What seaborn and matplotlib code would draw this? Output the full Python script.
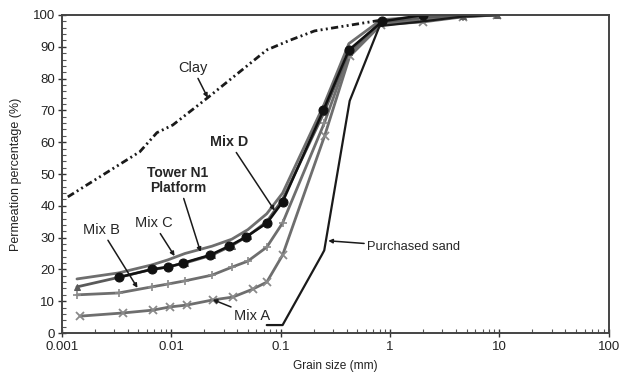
import numpy as np
import pandas as pd
import seaborn as sns
import matplotlib
matplotlib.use("Agg")
import matplotlib.pyplot as plt
from matplotlib.ticker import MultipleLocator, LogLocator, FixedLocator, FixedFormatter, NullFormatter

# Grain size distribution data (grain size in mm, passing percentage)
mix_grain = [0.00137, 0.0033, 0.0066, 0.0093, 0.0133, 0.0235, 0.0357, 0.05,
             0.0745, 0.104, 0.25, 0.42, 0.83, 2.0, 4.6, 9.4]
mix_a_grain = [0.00146, 0.0036, 0.0068, 0.0097, 0.0139, 0.0239, 0.0365, 0.0555,
               0.0745, 0.104, 0.252, 0.427, 0.83, 1.98, 4.6, 9.4]
mix_a_pass = [5.3, 6.3, 7.2, 8.2, 8.8, 10.4, 11.3, 13.8, 16, 24.5, 62, 87, 97, 97.8, 99.4, 100]
mix_b_pass = [12, 12.6, 14.5, 15.4, 16.4, 18.2, 20.7, 22.6, 27, 34.6, 66, 87.5, 97.5, 98.5, 99.5, 100]
mix_c_pass = [17, 18.9, 21.4, 23, 25, 27.3, 29.5, 32.5, 37.5, 44, 72, 91, 98.5, 99.5, 100, 100]
mix_d_pass = [14.5, 17.5, 20, 20.8, 22, 24.5, 27.5, 30.5, 35, 42, 69.5, 88.5, 97.8, 99.3, 99.8, 100]

tower_grain = [0.0033, 0.0066, 0.0093, 0.0127, 0.0225, 0.034, 0.048, 0.075, 0.104,
               0.245, 0.42, 0.85, 2.0]
tower_pass = [17.5, 20, 20.7, 22, 24.5, 27.4, 30.2, 34.6, 41.2, 70, 89, 98, 100]

clay_grain = [0.00113, 0.00515, 0.00738, 0.0103, 0.0215, 0.0745, 0.12, 0.204, 0.83]
clay_pass = [42.8, 57, 63, 65.4, 74, 89, 92, 95, 98.4]

sand_grain = [0.0745, 0.104, 0.237, 0.25, 0.427, 0.8, 2.0, 4.6, 9.4]
sand_pass = [2.5, 2.5, 24.5, 26, 73, 96.5, 98, 99.5, 100]

x_ticks = [0.001, 0.01, 0.1, 1, 10, 100]
x_tick_labels = ["0.001", "0.01", "0.1", "1", "10", "100"]

sns.set_theme(style="white")
plt.rcParams["font.family"] = ["Liberation Sans", "DejaVu Sans"]

fig = plt.figure(figsize=(6.2, 3.74), dpi=100)
ax = fig.add_axes([0.1, 0.1096, 0.882, 0.8503])

gray = "#6e6e6e"
common = dict(ax=ax, estimator=None, sort=False, legend=False)

sns.lineplot(x=mix_a_grain, y=mix_a_pass, color=gray, lw=2.0, marker="x",
             markersize=6, markeredgecolor="#8a8a8a", markeredgewidth=1.3, **common)
sns.lineplot(x=mix_grain, y=mix_b_pass, color=gray, lw=2.0, marker="+",
             markersize=6, markeredgecolor="#8a8a8a", markeredgewidth=1.2, **common)
sns.lineplot(x=mix_grain, y=mix_c_pass, color=gray, lw=2.0, **common)
sns.lineplot(x=mix_grain, y=mix_d_pass, color="#5a5a5a", lw=2.0, marker="^",
             markersize=4, markeredgecolor="#5a5a5a", markerfacecolor="#5a5a5a", **common)
sns.lineplot(x=sand_grain, y=sand_pass, color="#1a1a1a", lw=1.6, **common)
sns.lineplot(x=clay_grain, y=clay_pass, color="#1a1a1a", lw=2.0,
             linestyle=(0, (2.6, 1.2, 0.7, 1.2, 0.7, 1.2)), **common)
sns.lineplot(x=tower_grain, y=tower_pass, color="#111111", lw=1.8, marker="o",
             markersize=6.5, markerfacecolor="#111111", markeredgecolor="#111111", **common)

ax.set_xscale("log")
ax.set_xlim(0.001, 100)
ax.set_ylim(0, 100)

ax.xaxis.set_major_locator(FixedLocator(x_ticks))
ax.xaxis.set_major_formatter(FixedFormatter(x_tick_labels))
ax.xaxis.set_minor_locator(LogLocator(base=10, subs=np.arange(2, 10), numticks=20))
ax.xaxis.set_minor_formatter(NullFormatter())
ax.yaxis.set_major_locator(MultipleLocator(10))
ax.yaxis.set_minor_locator(MultipleLocator(2))

ax.tick_params(axis="both", which="both", bottom=True, left=True, top=False, right=False)
ax.tick_params(axis="both", which="major", direction="inout", length=6, width=1,
               colors="#333333", labelsize=9.5, labelcolor="#222222")
ax.tick_params(axis="both", which="minor", direction="in", length=3, width=0.8,
               colors="#555555")
ax.tick_params(axis="x", which="major", pad=3)
ax.tick_params(axis="y", which="major", pad=2)

for side in ["left", "right", "top", "bottom"]:
    ax.spines[side].set_color("#444444")
    ax.spines[side].set_linewidth(1.4)

ax.set_xlabel("Grain size (mm)", fontsize=8.6, color="#222222", labelpad=5)
ax.set_ylabel("Permeation percentage (%)", fontsize=9, color="#222222", labelpad=8)

arrow = dict(arrowstyle="-|>", color="#1a1a1a", lw=1.1, mutation_scale=6,
             shrinkA=0, shrinkB=0)

ax.annotate("Clay", xy=(0.0215, 74), xytext=(0.0157, 83.3), fontsize=10.5,
            ha="center", va="center", arrowprops=arrow)
ax.annotate("Mix D", xy=(0.088, 38.5), xytext=(0.034, 60), fontsize=10.3,
            fontweight="bold", ha="center", va="center", arrowprops=arrow)
ax.annotate("Tower N1\nPlatform", xy=(0.0185, 25.5), xytext=(0.0115, 48),
            fontsize=10, fontweight="bold", ha="center", va="center",
            linespacing=1.15, arrowprops=arrow)
ax.annotate("Mix C", xy=(0.0107, 24.2), xytext=(0.0069, 34.5), fontsize=10.5,
            ha="center", va="center", arrowprops=arrow)
ax.annotate("Mix B", xy=(0.0049, 14.2), xytext=(0.0023, 32.4), fontsize=10.5,
            ha="center", va="center", arrowprops=arrow)
ax.annotate("Mix A", xy=(0.0239, 10.5), xytext=(0.055, 5.5), fontsize=10.5,
            ha="center", va="center", arrowprops=arrow)
ax.annotate("Purchased sand", xy=(0.272, 29), xytext=(0.62, 27), fontsize=9.3,
            ha="left", va="center", arrowprops=arrow)

fig.savefig("out.png", dpi=100, facecolor="white")
